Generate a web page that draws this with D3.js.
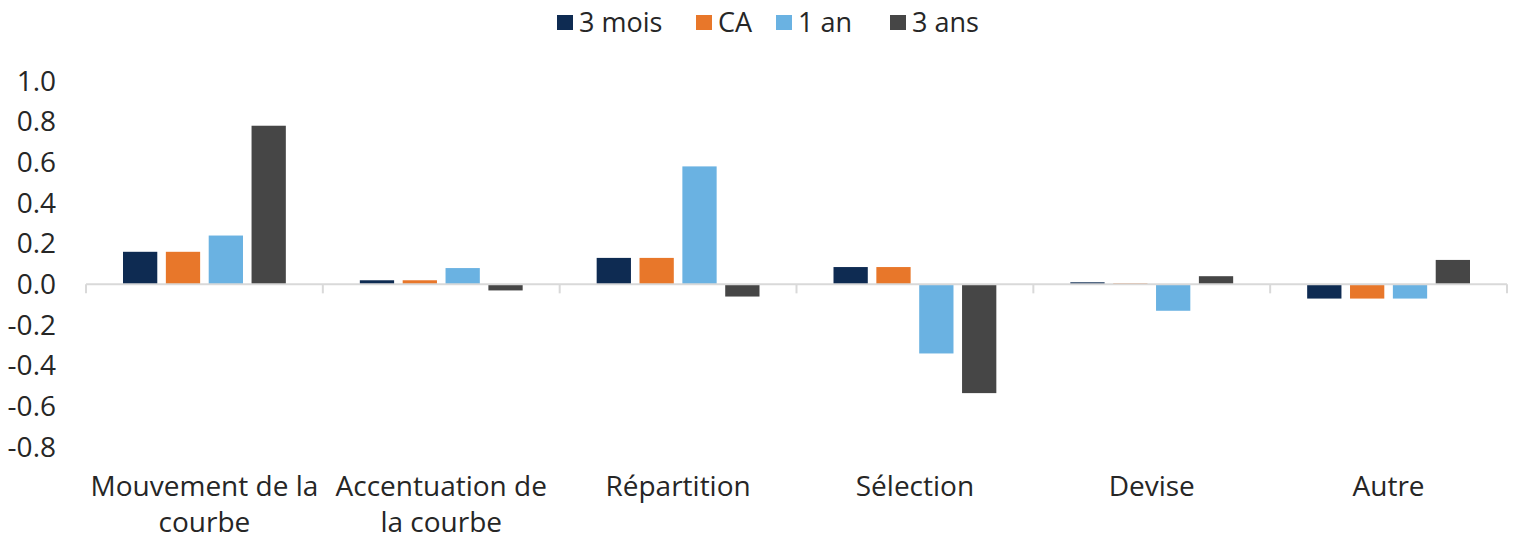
<!DOCTYPE html>
<html>
<head>
<meta charset="utf-8">
<script src="https://cdn.jsdelivr.net/npm/d3@7"></script>
<style>
  body { margin: 0; background: #fff; }
  svg text { font-family: "Open Sans", sans-serif; fill: #262626; }
</style>
</head>
<body>
<svg id="chart"></svg>
<script>
const width = 1520
const height = 542

// Data
const categories = [
    ["Mouvement de la", "courbe"],
    ["Accentuation de", "la courbe"],
    ["Répartition"],
    ["Sélection"],
    ["Devise"],
    ["Autre"]
]
const seriesNames = ["3 mois", "CA", "1 an", "3 ans"]
const troisMois = [0.16, 0.02, 0.13, 0.085, 0.01, -0.07]
const ca = [0.16, 0.02, 0.13, 0.085, 0.005, -0.07]
const unAn = [0.24, 0.08, 0.58, -0.34, -0.13, -0.07]
const troisAns = [0.78, -0.03, -0.06, -0.535, 0.04, 0.12]
const yTicks = [-0.8, -0.6, -0.4, -0.2, 0.0, 0.2, 0.4, 0.6, 0.8, 1.0]

const seriesValues = [troisMois, ca, unAn, troisAns]
const colors = ["#0e2b52", "#e8772a", "#6ab2e2", "#464646"]

// Layout
const plotLeft = 86
const plotRight = 1507

const svg = d3.select("#chart")
    .attr("width", width)
    .attr("height", height)

const x = d3.scaleBand()
    .domain(d3.range(categories.length))
    .range([plotLeft, plotRight])

const xInner = d3.scaleBand()
    .domain(d3.range(seriesNames.length))
    .range([37, x.bandwidth() - 37])
    .paddingInner(0.2)

const y = d3.scaleLinear()
    .domain([-0.8, 1.0])
    .range([447, 81])

// Y tick labels (hyphen for negatives, like the original)
svg.append("g")
    .selectAll("text")
    .data(yTicks)
    .enter()
    .append("text")
    .attr("x", 56)
    .attr("y", d => y(d))
    .attr("dy", "0.35em")
    .attr("text-anchor", "end")
    .attr("font-size", 28)
    .text(d => d.toFixed(1))

// Bars
const groups = svg.append("g")
    .selectAll("g")
    .data(seriesValues)
    .enter()
    .append("g")
    .attr("fill", (d, i) => colors[i])

groups.each(function(values, s) {
    d3.select(this)
        .selectAll("rect")
        .data(values)
        .enter()
        .append("rect")
        .attr("x", (d, i) => x(i) + xInner(s))
        .attr("width", xInner.bandwidth())
        .attr("y", d => y(Math.max(0, d)))
        .attr("height", d => Math.abs(y(d) - y(0)))
})

// Zero axis with ticks at category boundaries
const axis = svg.append("g")
    .attr("stroke", "#d9d9d9")
    .attr("stroke-width", 2)

axis.append("line")
    .attr("x1", plotLeft)
    .attr("x2", plotRight)
    .attr("y1", y(0))
    .attr("y2", y(0))

axis.selectAll(".tick")
    .data(d3.range(categories.length + 1))
    .enter()
    .append("line")
    .attr("x1", i => plotLeft + i * x.step())
    .attr("x2", i => plotLeft + i * x.step())
    .attr("y1", y(0))
    .attr("y2", y(0) + 9)

// Category labels
const labels = svg.append("g")
    .selectAll("text")
    .data(categories)
    .enter()
    .append("text")
    .attr("x", (d, i) => x(i) + x.bandwidth() / 2)
    .attr("y", 496)
    .attr("text-anchor", "middle")
    .attr("font-size", 28)

labels.selectAll("tspan")
    .data(d => d)
    .enter()
    .append("tspan")
    .attr("x", function() { return this.parentNode.getAttribute("x") })
    .attr("dy", (d, i) => i === 0 ? 0 : 36)
    .text(d => d)

// Legend
const legendX = [557, 696, 776, 890]
const legend = svg.append("g")
    .selectAll("g")
    .data(seriesNames)
    .enter()
    .append("g")
    .attr("transform", (d, i) => `translate(${legendX[i]}, 23)`)

legend.append("rect")
    .attr("x", 0)
    .attr("y", -8)
    .attr("width", 16)
    .attr("height", 15)
    .attr("fill", (d, i) => colors[i])

legend.append("text")
    .attr("x", 22)
    .attr("y", 0)
    .attr("dy", "0.35em")
    .attr("font-size", 27)
    .text(d => d)
</script>
</body>
</html>
